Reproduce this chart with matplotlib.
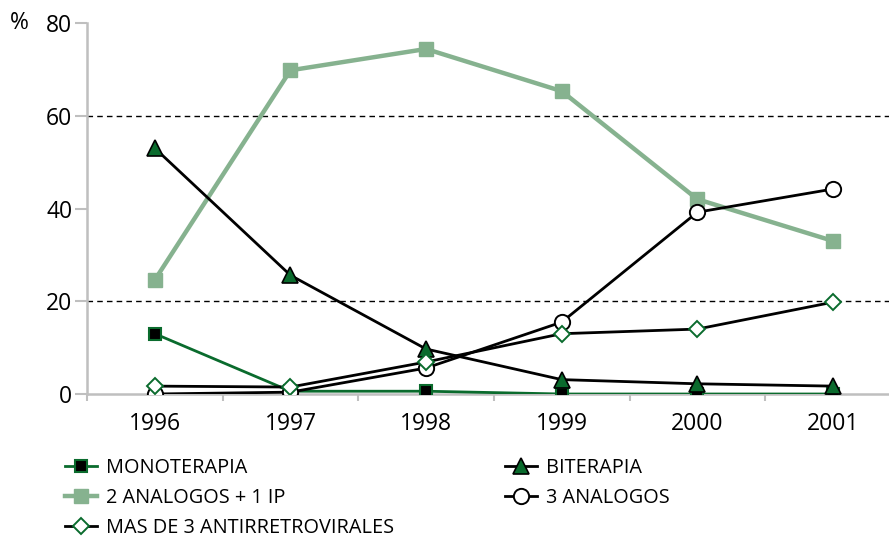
import matplotlib
matplotlib.use("Agg")
import matplotlib.pyplot as plt

years = ["1996", "1997", "1998", "1999", "2000", "2001"]
monoterapia = [13.0, 0.6, 0.6, 0.0, 0.0, 0.0]
biterapia = [53.0, 25.6, 9.7, 3.1, 2.2, 1.7]
dos_analogos_ip = [24.6, 69.8, 74.4, 65.3, 42.0, 33.0]
tres_analogos = [0.0, 0.4, 5.6, 15.5, 39.2, 44.2]
mas_de_tres = [1.7, 1.5, 6.9, 13.0, 14.0, 19.8]
y_ticks = [0, 20, 40, 60, 80]

plt.rcParams["font.family"] = ["Open Sans", "DejaVu Sans"]

DARK = "#0a6b2d"
LIGHT = "#86b28f"
GRAY = "#bfbfbf"

fig = plt.figure(figsize=(8.89, 5.39), dpi=100)
ax = fig.add_axes([87 / 889, 145 / 539, (889 - 87) / 889, (394 - 23) / 539])

x = list(range(len(years)))

h_mono, = ax.plot(x, monoterapia, color=DARK, lw=2, marker="s", ms=8,
                  mfc="black", mec=DARK, mew=1.5, zorder=3, label="MONOTERAPIA")
h_bi, = ax.plot(x, biterapia, color="black", lw=2, marker="^", ms=12,
                mfc=DARK, mec="black", mew=1.2, zorder=4, label="BITERAPIA")
h_2a, = ax.plot(x, dos_analogos_ip, color=LIGHT, lw=3.2, marker="s", ms=10,
                mfc=LIGHT, mec=LIGHT, zorder=3, label="2 ANALOGOS + 1 IP")
h_3a, = ax.plot(x, tres_analogos, color="black", lw=2, marker="o", ms=11,
                mfc="white", mec="black", mew=1.4, zorder=5, label="3 ANALOGOS")
h_mas, = ax.plot(x, mas_de_tres, color="black", lw=2, marker="D", ms=8.5,
                 mfc="white", mec=DARK, mew=1.4, zorder=6,
                 label="MAS DE 3 ANTIRRETROVIRALES")

for g in (20, 60):
    ax.axhline(g, color="black", lw=1, ls=(0, (4, 3)), zorder=1)

ax.set_xlim(-0.5, 5.413)
ax.set_ylim(0, 80)
ax.set_yticks(y_ticks)
ax.set_yticklabels([str(v) for v in y_ticks], fontsize=16.5)
ax.set_xticks(x)
ax.set_xticklabels(years, fontsize=16.5)
ax.set_xticks([i + 0.5 for i in range(-1, 5)], minor=True)
ax.tick_params(axis="x", which="major", length=0, pad=13)
ax.tick_params(axis="x", which="minor", length=5, color=GRAY, width=1.5, direction="out")
ax.tick_params(axis="y", length=8.6, color=GRAY, width=1.5, pad=2)

for side in ("top", "right"):
    ax.spines[side].set_visible(False)
for side in ("left", "bottom"):
    ax.spines[side].set_color(GRAY)
    ax.spines[side].set_linewidth(1.8)

fig.text(19 / 889, 1 - 23 / 539, "%", fontsize=16.5, ha="center", va="center")

legend_kw = dict(ncol=1, loc="upper left", frameon=False, handlelength=1.6,
                 handletextpad=0.45, labelspacing=0.5, borderaxespad=0,
                 borderpad=0, prop={"size": 14.3}, markerscale=1.0)
fig.legend(handles=[h_mono, h_2a, h_mas],
           bbox_to_anchor=(65 / 889, 1 - 458 / 539), **legend_kw)
fig.legend(handles=[h_bi, h_3a],
           bbox_to_anchor=(505 / 889, 1 - 458 / 539), **legend_kw)

fig.savefig("out.png", dpi=100)
